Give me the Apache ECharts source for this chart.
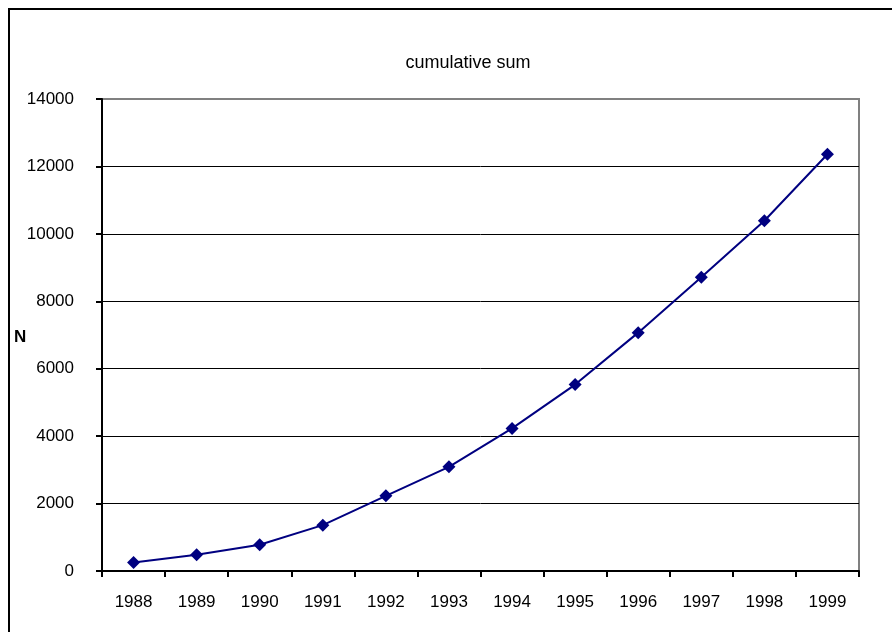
<!DOCTYPE html>
<html>
<head>
<meta charset="utf-8">
<script src="https://cdn.jsdelivr.net/npm/echarts@6/dist/echarts.min.js"></script>
<style>
  html, body { margin: 0; padding: 0; background: #fff; }
  #chart { width: 892px; height: 632px; }
</style>
</head>
<body>
<div id="chart"></div>
<script>
// data
var years = ['1988', '1989', '1990', '1991', '1992', '1993', '1994', '1995', '1996', '1997', '1998', '1999'];
var cumSum = [250, 480, 780, 1360, 2230, 3090, 4230, 5530, 7070, 8710, 10390, 12360];
var yTicks = { min: 0, max: 14000, interval: 2000 };

var myChart = echarts.init(document.getElementById('chart'));
var font = 'Liberation Sans, Arial, sans-serif';

var option = {
  animation: false,
  backgroundColor: '#fff',
  title: {
    text: 'cumulative sum',
    left: 463,
    top: 49,
    textAlign: 'center',
    textStyle: { fontFamily: font, fontSize: 18, fontWeight: 'normal', color: '#000' }
  },
  graphic: [
    // outer chart border (only top/left visible in the frame)
    {
      type: 'rect',
      shape: { x: 9, y: 9, width: 1000, height: 1000 },
      style: { fill: null, stroke: '#000', lineWidth: 2 }
    },
    {
      type: 'text',
      left: 14,
      top: 329,
      style: { text: 'N', font: 'bold 17px ' + font, fill: '#000' }
    }
  ],
  grid: {
    left: 102,
    right: 33,
    top: 99,
    bottom: 61,
    show: true,
    borderColor: '#808080',
    borderWidth: 2
  },
  xAxis: {
    type: 'category',
    data: years,
    boundaryGap: true,
    axisLine: { lineStyle: { color: '#000', width: 2 } },
    axisTick: { show: true, interval: 0, length: 6, lineStyle: { color: '#000', width: 2 } },
    axisLabel: { margin: 23, interval: 0, fontFamily: font, fontSize: 17, color: '#000' },
    splitLine: { show: false }
  },
  yAxis: {
    type: 'value',
    min: yTicks.min,
    max: yTicks.max,
    interval: yTicks.interval,
    axisLine: { show: true, lineStyle: { color: '#000', width: 2 } },
    axisTick: { show: true, length: 6, lineStyle: { color: '#000', width: 2 } },
    axisLabel: {
      margin: 28, fontFamily: font, fontSize: 17, color: '#000',
      formatter: function (v) { return String(v); }
    },
    splitLine: { show: true, showMinLine: false, showMaxLine: false, lineStyle: { color: '#000', width: 1 } }
  },
  series: [{
    type: 'line',
    data: cumSum,
    symbol: 'diamond',
    symbolSize: 13,
    itemStyle: { color: '#000080' },
    lineStyle: { color: '#000080', width: 2 }
  }]
};

myChart.setOption(option, true);
</script>
</body>
</html>
